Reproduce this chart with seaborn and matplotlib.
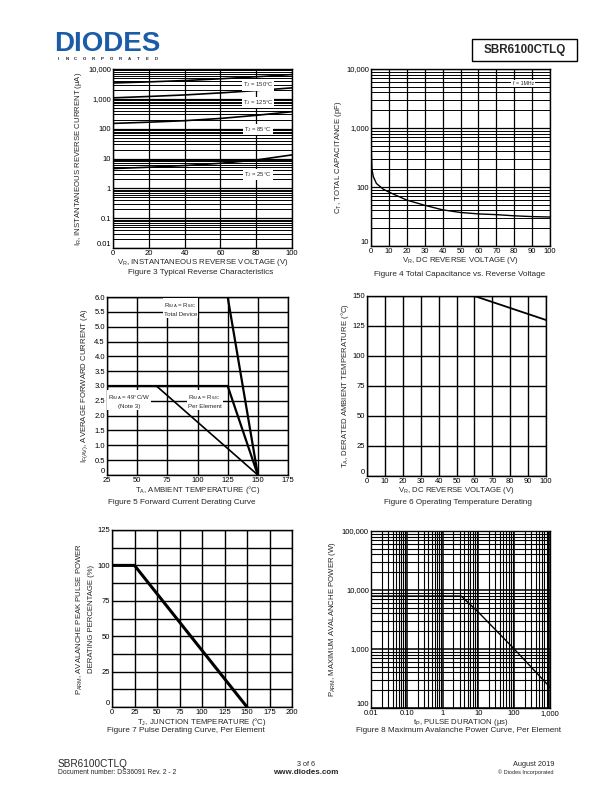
import numpy as np
import pandas as pd
import seaborn as sns
import matplotlib.pyplot as plt
from matplotlib.patches import Rectangle
from matplotlib.ticker import LogLocator, MultipleLocator, NullFormatter

sns.set_style("white")
plt.rcParams['font.family'] = ['Liberation Sans', 'DejaVu Sans']
plt.rcParams['mathtext.fontset'] = 'custom'
plt.rcParams['mathtext.rm'] = 'Liberation Sans'
plt.rcParams['mathtext.default'] = 'regular'

# ---- data ----
# Figure 3: reverse current vs reverse voltage
vr3 = [0, 20, 40, 60, 80, 100]
ir_150 = [3400, 3700, 4100, 4700, 5500, 6500]
ir_125 = [1080, 1200, 1350, 1580, 1900, 2330]
ir_85 = [150, 165, 185, 220, 280, 370]
ir_25 = [4.6, 5.1, 5.8, 6.9, 8.9, 13.2]

# Figure 4: capacitance vs reverse voltage
vr4 = [0, 0, 0.2, 0.5, 1.3, 3, 6.8, 10, 20, 30, 40, 50, 60, 70, 80, 90, 100]
ct = [1830, 900, 380, 200, 150, 115, 92, 82, 60, 49, 41, 37, 35, 34, 32.5, 31.5, 31]

# Figure 5: forward current derating
ta5 = [25, 125, 150]
if_total = [6.0, 6.0, 0]
if_elem = [3.0, 3.0, 0]
ta5_note = [25, 66, 150]
if_note = [3.0, 3.0, 0]

# Figure 6: operating temperature derating
vr6 = [0, 60, 100]
ta6 = [150, 150, 130]

# Figure 7: pulse derating
tj7 = [0, 25, 150]
pct7 = [100, 100, 0]

# Figure 8: max avalanche power
tp8 = [0.01, 3.3, 10, 100, 1000]
parm8 = [7900, 7900, 4200, 1000, 225]

W, H = 612, 792
fig = plt.figure(figsize=(W / 100, H / 100), dpi=100)


def ax_px(box):
    l, t, r, b = box
    return fig.add_axes([l / W, 1 - b / H, (r - l) / W, (b - t) / H])


def style(ax):
    for s in ax.spines.values():
        s.set_color('black')
        s.set_linewidth(1.0)
    ax.tick_params(length=0, pad=1.5, labelsize=5.5, colors='black', which='both')
    ax.set_axisbelow(True)


def grid(ax, major=0.9, minor=0.7):
    ax.grid(True, which='major', color='black', linewidth=major)
    ax.grid(True, which='minor', color='black', linewidth=minor)


def raise_first(ax):
    # the datasheet sets the lowest y label slightly above the corner
    ax.yaxis.get_major_ticks()[0].label1.set_va('bottom')


def line(ax, x, y, lw=1.2):
    df = pd.DataFrame({'x': x, 'y': y})
    sns.lineplot(data=df, x='x', y='y', ax=ax, color='black', linewidth=lw,
                 estimator=None, sort=False, legend=False)


def labels(ax, box, xl, yl, xl_y, yl_x, **kw):
    # put axis labels at fixed pixel positions like the datasheet
    l, t, r, b = box
    ax.set_xlabel(xl, fontsize=LBL)
    ax.set_ylabel(yl, fontsize=LBL, **kw)
    ax.xaxis.label.set_va('center')
    ax.yaxis.label.set_va('center')
    ax.xaxis.set_label_coords(0.5, -(xl_y - b) / (b - t))
    ax.yaxis.set_label_coords(-(l - yl_x) / (r - l), 0.5)


def caption(x, y, s):
    fig.text(x / W, 1 - y / H, s, fontsize=CAP, ha='center', va='center')


def tag(ax, x, y, s, size=4.2):
    ax.text(x, y, s, fontsize=size, ha='center', va='center', linespacing=1.5,
            bbox=dict(facecolor='white', edgecolor='none', pad=0.8), zorder=5)


LBL = 5.6
CAP = 5.9

# ---- Figure 3 ----
box = (113, 69, 292, 248)
ax = ax_px(box)
style(ax)
line(ax, vr3, ir_150)
line(ax, vr3, ir_125)
line(ax, vr3, ir_85)
line(ax, vr3, ir_25)
ax.set_yscale('log')
ax.set_xlim(0, 100)
ax.set_ylim(0.01, 10000)
ax.xaxis.set_major_locator(MultipleLocator(20))
ax.yaxis.set_minor_locator(LogLocator(base=10, subs=range(2, 10), numticks=20))
ax.yaxis.set_minor_formatter(NullFormatter())
ax.set_yticks([0.01, 0.1, 1, 10, 100, 1000, 10000])
ax.set_yticklabels(['0.01', '0.1', '1', '10', '100', '1,000', '10,000'])
raise_first(ax)
grid(ax)
tag(ax, 81, 2900, 'T$_J$ = 150°C')
tag(ax, 81, 750, 'T$_J$ = 125°C')
tag(ax, 81, 95, 'T$_J$ = 85°C')
tag(ax, 81, 3.0, 'T$_J$ = 25°C')
labels(ax, box, 'V$_R$, INSTANTANEOUS REVERSE VOLTAGE (V)',
       'I$_R$, INSTANTANEOUS REVERSE CURRENT (µA)', 262, 78)
caption(201, 272, 'Figure 3 Typical Reverse Characteristics')

# ---- Figure 4 ----
box = (371, 69, 550, 246)
ax = ax_px(box)
style(ax)
line(ax, vr4, ct, lw=1.0)
ax.set_yscale('log')
ax.set_xlim(0, 100)
ax.set_ylim(10, 10000)
ax.xaxis.set_major_locator(MultipleLocator(10))
ax.yaxis.set_minor_locator(LogLocator(base=10, subs=range(2, 10), numticks=20))
ax.yaxis.set_minor_formatter(NullFormatter())
ax.set_yticks([10, 100, 1000, 10000])
ax.set_yticklabels(['10', '100', '1,000', '10,000'])
raise_first(ax)
grid(ax)
tag(ax, 85, 5600, 'f = 1MHz', size=3.8)
labels(ax, box, 'V$_R$, DC REVERSE VOLTAGE (V)', 'C$_T$, TOTAL CAPACITANCE (pF)',
       261, 339)
caption(460, 274, 'Figure 4 Total Capacitance vs. Reverse Voltage')

# ---- Figure 5 ----
box = (107, 297, 288, 475)
ax = ax_px(box)
style(ax)
line(ax, ta5, if_total, lw=1.6)
line(ax, ta5, if_elem, lw=1.6)
line(ax, ta5_note, if_note, lw=1.2)
ax.set_xlim(25, 175)
ax.set_ylim(0, 6)
ax.set_xticks(range(25, 176, 25))
ax.set_yticks(np.arange(0, 6.01, 0.5))
ax.set_yticklabels(['0'] + [f'{v:.1f}' for v in np.arange(0.5, 6.01, 0.5)])
raise_first(ax)
grid(ax, major=1.0)
tag(ax, 86, 5.6, 'R$_{θJA}$ = R$_{θJC}$\nTotal Device', size=4.4)
tag(ax, 43, 2.5, 'R$_{θJA}$ = 49°C/W\n(Note 3)', size=4.4)
tag(ax, 106, 2.5, 'R$_{θJA}$ = R$_{θJC}$\nPer Element', size=4.4)
labels(ax, box, 'T$_A$, AMBIENT TEMPERATURE (°C)',
       'I$_{F(AV)}$, AVERAGE FORWARD CURRENT (A)', 490, 85)
caption(182, 502, 'Figure 5 Forward Current Derating Curve')

# ---- Figure 6 ----
box = (367, 296, 546, 476)
ax = ax_px(box)
style(ax)
line(ax, vr6, ta6, lw=1.3)
ax.set_xlim(0, 100)
ax.set_ylim(0, 150)
ax.set_xticks(range(0, 101, 10))
ax.set_yticks(range(0, 151, 25))
ax.set_yticklabels([str(v) for v in range(0, 151, 25)])
raise_first(ax)
grid(ax, major=1.0)
labels(ax, box, 'V$_R$, DC REVERSE VOLTAGE (V)',
       'T$_A$, DERATED AMBIENT TEMPERATURE (°C)', 491, 345)
caption(458, 503, 'Figure 6 Operating Temperature Derating')

# ---- Figure 7 ----
box = (112, 530, 292, 707)
ax = ax_px(box)
style(ax)
line(ax, tj7, pct7, lw=2.2)
ax.set_xlim(0, 200)
ax.set_ylim(0, 125)
ax.set_xticks(range(0, 201, 25))
ax.set_yticks(range(0, 126, 25))
ax.set_yticklabels([str(v) for v in range(0, 126, 25)])
ax.yaxis.set_minor_locator(MultipleLocator(12.5))
raise_first(ax)
grid(ax, major=1.0, minor=1.0)
labels(ax, box, 'T$_J$, JUNCTION TEMPERATURE (°C)',
       'P$_{ARM}$, AVALANCHE PEAK PULSE POWER\nDERATING PERCENTAGE (%)', 722, 85,
       linespacing=1.7)
caption(186, 731, 'Figure 7 Pulse Derating Curve, Per Element')

# ---- Figure 8 ----
box = (371, 531, 550, 708)
ax = ax_px(box)
style(ax)
line(ax, tp8, parm8, lw=1.0)
ax.set_xscale('log')
ax.set_yscale('log')
ax.set_xlim(0.01, 1000)
ax.set_ylim(100, 100000)
for a in (ax.xaxis, ax.yaxis):
    a.set_minor_locator(LogLocator(base=10, subs=range(2, 10), numticks=20))
    a.set_minor_formatter(NullFormatter())
ax.set_xticks([0.01, 0.1, 1, 10, 100, 1000])
ax.set_xticklabels(['0.01', '0.10', '1', '10', '100', '1,000'])
ax.set_yticks([100, 1000, 10000, 100000])
ax.set_yticklabels(['100', '1,000', '10,000', '100,000'])
raise_first(ax)
grid(ax, major=1.1, minor=0.8)
labels(ax, box, 't$_P$, PULSE DURATION (µs)', 'P$_{ARM}$, MAXIMUM AVALANCHE POWER (W)',
       722, 332)
caption(458, 731, 'Figure 8 Maximum Avalanche Power Curve, Per Element')

# ---- header ----
blue = '#1b5ca8'
fig.text(54 / W, 1 - 44 / H, 'DIODES', fontsize=20, fontweight='bold', color=blue,
         ha='left', va='center')
for i, ch in enumerate('INCORPORATED'):
    fig.text((58 + i * 8.9) / W, 1 - 59 / H, ch, fontsize=3.2, fontweight='bold',
             color='#222222', ha='center', va='center')
fig.patches.append(Rectangle((472 / W, 1 - 61 / H), 105 / W, 22 / H,
                             transform=fig.transFigure, facecolor='white',
                             edgecolor='black', linewidth=1.0))
fig.text(524.5 / W, 1 - 50 / H, 'SBR6100CTLQ', fontsize=8.4, fontweight='bold',
         ha='center', va='center')

# ---- footer ----
fig.text(58 / W, 1 - 764 / H, 'SBR6100CTLQ', fontsize=7.2, ha='left', va='center')
fig.text(58 / W, 1 - 773 / H, 'Document number: DS36091 Rev. 2 - 2', fontsize=4.9,
         ha='left', va='center')
fig.text(306 / W, 1 - 764 / H, '3 of 6', fontsize=5.2, ha='center', va='center')
fig.text(306 / W, 1 - 773 / H, 'www.diodes.com', fontsize=5.8, fontweight='bold',
         ha='center', va='center')
fig.text(554 / W, 1 - 764 / H, 'August 2019', fontsize=5.3, ha='right', va='center')
fig.text(554 / W, 1 - 772 / H, '© Diodes Incorporated', fontsize=4.0,
         ha='right', va='center')

fig.savefig('out.png', dpi=100)
